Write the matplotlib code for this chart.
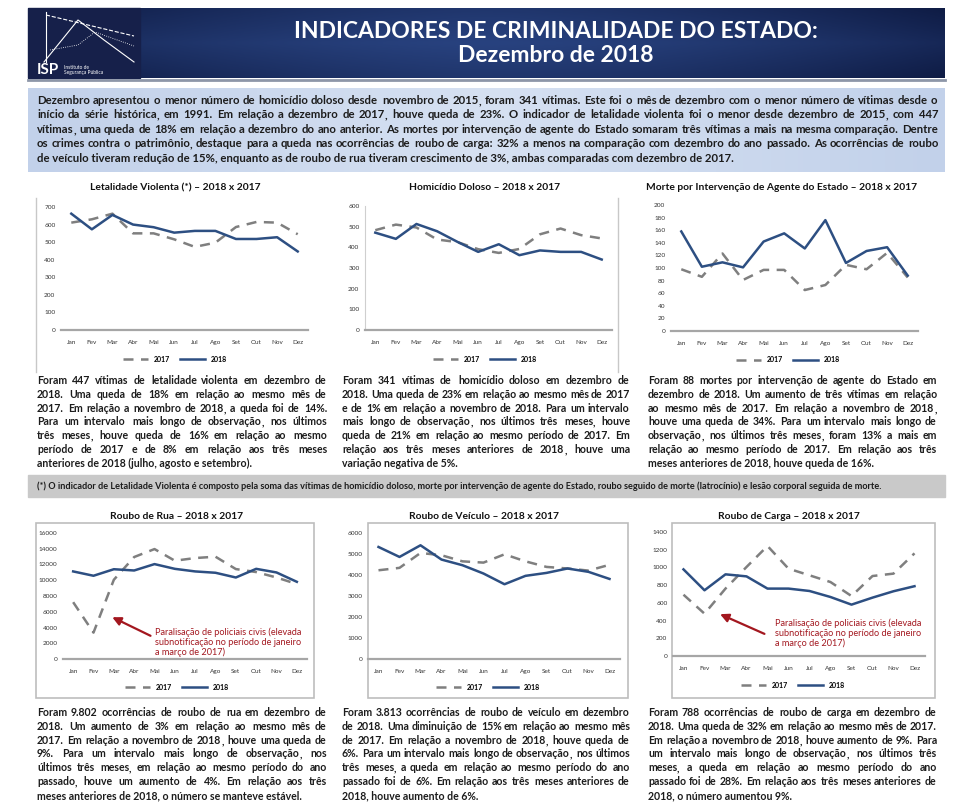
import numpy as np
import matplotlib
matplotlib.use("Agg")
import matplotlib.pyplot as plt
from matplotlib.colors import LinearSegmentedColormap

plt.rcParams["font.family"] = ["Lato", "DejaVu Sans"]

W, H = 960, 805

meses = ["Jan", "Fev", "Mar", "Abr", "Mai", "Jun", "Jul", "Ago", "Set", "Out", "Nov", "Dez"]

# ====== Dados ======
letal_2017 = [611, 630, 662, 550, 550, 516, 473, 497, 586, 615, 611, 545]
letal_2018 = [662, 573, 655, 600, 585, 554, 564, 564, 518, 518, 528, 447]

homic_2017 = [483, 510, 496, 438, 425, 391, 373, 392, 463, 491, 459, 443]
homic_2018 = [471, 441, 513, 478, 426, 378, 415, 362, 385, 378, 378, 341]

morte_2017 = [98, 86, 123, 81, 97, 97, 65, 73, 105, 98, 124, 85]
morte_2018 = [158, 102, 109, 101, 142, 155, 131, 176, 108, 127, 133, 88]

rua_2017 = [7215, 3350, 10060, 12950, 13960, 12480, 12820, 12990, 11420, 11040, 10350, 9520]
rua_2018 = [11120, 10570, 11400, 11240, 12050, 11450, 11120, 10950, 10350, 11450, 10990, 9802]

veic_2017 = [4225, 4340, 5050, 4940, 4650, 4590, 4985, 4650, 4385, 4310, 4210, 4486]
veic_2018 = [5335, 4860, 5415, 4735, 4465, 4070, 3560, 3960, 4100, 4310, 4150, 3813]

carga_2017 = [692, 478, 761, 1005, 1242, 986, 911, 835, 677, 903, 930, 1159]
carga_2018 = [978, 742, 922, 899, 761, 761, 734, 666, 580, 659, 731, 788]

titulos = ["Letalidade Violenta (*) – 2018 x 2017",
           "Homicídio Doloso – 2018 x 2017",
           "Morte por Intervenção de Agente do Estado – 2018 x 2017",
           "Roubo de Rua – 2018 x 2017",
           "Roubo de Veículo – 2018 x 2017",
           "Roubo de Carga – 2018 x 2017"]
series = [(letal_2017, letal_2018), (homic_2017, homic_2018), (morte_2017, morte_2018),
          (rua_2017, rua_2018), (veic_2017, veic_2018), (carga_2017, carga_2018)]
ymax = [700, 600, 200, 16000, 6000, 1400]
ystep = [100, 100, 20, 2000, 1000, 200]

resumo = [
    "Dezembro apresentou o menor número de homicídio doloso desde novembro de 2015, foram 341 vítimas. Este foi o mês de dezembro com o menor número de vítimas desde o",
    "início da série histórica, em 1991. Em relação a dezembro de 2017, houve queda de 23%. O indicador de letalidade violenta foi o menor desde dezembro de 2015, com 447",
    "vítimas, uma queda de 18% em relação a dezembro do ano anterior. As mortes por intervenção de agente do Estado somaram três vítimas a mais na mesma comparação. Dentre",
    "os crimes contra o patrimônio, destaque para a queda nas ocorrências de roubo de carga: 32% a menos na comparação com dezembro do ano passado. As ocorrências de roubo",
    "de veículo tiveram redução de 15%, enquanto as de roubo de rua tiveram crescimento de 3%, ambas comparadas com dezembro de 2017.",
]

textos = [
    ["Foram 447 vítimas de letalidade violenta em dezembro de",
     "2018. Uma queda de 18% em relação ao mesmo mês de",
     "2017. Em relação a novembro de 2018, a queda foi de 14%.",
     "Para um intervalo mais longo de observação, nos últimos",
     "três meses, houve queda de 16% em relação ao mesmo",
     "período de 2017 e de 8% em relação aos três meses",
     "anteriores de 2018 (julho, agosto e setembro)."],
    ["Foram 341 vítimas de homicídio doloso em dezembro de",
     "2018. Uma queda de 23% em relação ao mesmo mês de 2017",
     "e de 1% em relação a novembro de 2018. Para um intervalo",
     "mais longo de observação, nos últimos três meses, houve",
     "queda de 21% em relação ao mesmo período de 2017. Em",
     "relação aos três meses anteriores de 2018, houve uma",
     "variação negativa de 5%."],
    ["Foram 88 mortes por intervenção de agente do Estado em",
     "dezembro de 2018. Um aumento de três vítimas em relação",
     "ao mesmo mês de 2017. Em relação a novembro de 2018,",
     "houve uma queda de 34%. Para um intervalo mais longo de",
     "observação, nos últimos três meses, foram 13% a mais em",
     "relação ao mesmo período de 2017. Em relação aos três",
     "meses anteriores de 2018, houve queda de 16%."],
    ["Foram 9.802 ocorrências de roubo de rua em dezembro de",
     "2018. Um aumento de 3% em relação ao mesmo mês de",
     "2017. Em relação a novembro de 2018, houve uma queda de",
     "9%. Para um intervalo mais longo de observação, nos",
     "últimos três meses, em relação ao mesmo período do ano",
     "passado, houve um aumento de 4%. Em relação aos três",
     "meses anteriores de 2018, o número se manteve estável."],
    ["Foram 3.813 ocorrências de roubo de veículo em dezembro",
     "de 2018. Uma diminuição de 15% em relação ao mesmo mês",
     "de 2017. Em relação a novembro de 2018, houve queda de",
     "6%. Para um intervalo mais longo de observação, nos últimos",
     "três meses, a queda em relação ao mesmo período do ano",
     "passado foi de 6%. Em relação aos três meses anteriores de",
     "2018, houve aumento de 6%."],
    ["Foram 788 ocorrências de roubo de carga em dezembro de",
     "2018. Uma queda de 32% em relação ao mesmo mês de 2017.",
     "Em relação a novembro de 2018, houve aumento de 9%. Para",
     "um intervalo mais longo de observação, nos últimos três",
     "meses, a queda em relação ao mesmo período do ano",
     "passado foi de 28%. Em relação aos três meses anteriores de",
     "2018, o número aumentou 9%."],
]

nota = ("(*) O indicador de Letalidade Violenta é composto pela soma das vítimas de homicídio doloso, "
        "morte por intervenção de agente do Estado, roubo seguido de morte (latrocínio) e lesão corporal seguida de morte.")
paralisacao = "Paralisação de policiais civis (elevada\nsubnotificação no período de janeiro\na março de 2017)"

# ====== Layout (pixels: esquerda, topo, direita, base) ======
eixos = [(61, 207, 308, 330), (365, 206, 612, 330), (671, 205, 918, 331),
         (63, 533, 307, 659), (368, 533, 620, 659), (673, 532, 925, 656)]
pos_titulo = [(175, 188), (485, 188), (782, 188), (177, 516), (484, 516), (789, 516)]
pos_legenda = [(175, 359), (485, 359), (788, 360), (177, 687), (488, 687), (793, 685)]
pos_texto = [(37, 327, 381), (342, 630, 381), (648, 937, 381),
             (37, 327, 713), (342, 630, 713), (648, 937, 713)]

COR_2018 = "#2d4f82"
COR_2017 = "#7f7f7f"
COR_TXT = "#1c1c1c"

fig = plt.figure(figsize=(W / 100, H / 100), dpi=100)
bg = fig.add_axes([0, 0, 1, 1])
bg.set_xlim(0, W)
bg.set_ylim(H, 0)
bg.axis("off")
renderer = fig.canvas.get_renderer()


def largura(txt, size, weight):
    t = bg.text(0, 0, txt, fontsize=size, weight=weight)
    w = t.get_window_extent(renderer).width
    t.remove()
    return w


def ajusta(linhas, width, size, weight="bold"):
    # reduz a fonte até a linha mais longa caber na largura
    while size > 4 and max(largura(l, size, weight) for l in linhas) > width:
        size -= 0.1
    return round(size, 1)


def paragrafo(linhas, x0, x1, y0, dy, size, weight="bold", color=COR_TXT):
    # texto justificado, palavra por palavra; a vírgula final vai num texto
    # separado para não deslocar a palavra na vertical
    base = 0.36 * size
    kw = dict(fontsize=size, weight=weight, color=color, va="baseline", ha="left")
    for i, linha in enumerate(linhas):
        y = round(y0 + i * dy + base)
        palavras = linha.split()
        if i == len(linhas) - 1 or len(palavras) < 2:
            bg.text(x0, y, linha, **kw)
            continue
        grupos = []
        for p in palavras:
            if p.endswith(",") and len(p) > 1:
                partes = [bg.text(0, y, p[:-1], **kw), bg.text(0, y, ",", **kw)]
            else:
                partes = [bg.text(0, y, p, **kw)]
            grupos.append([(a, a.get_window_extent(renderer).width) for a in partes])
        larg = [sum(w for _, w in g) for g in grupos]
        gap = (x1 - x0 - sum(larg)) / (len(palavras) - 1)
        x = x0
        for g, wg in zip(grupos, larg):
            xp = x
            for a, w in g:
                a.set_x(round(xp))
                xp += w
            x += wg + gap


# ====== Cabeçalho ======
gx = np.linspace(-1, 1, 300)
gy = np.linspace(-1, 1, 40)
grad = 1 - 0.55 * np.abs(gx)[None, :] ** 1.5 - 0.25 * np.abs(gy)[:, None]
cm_head = LinearSegmentedColormap.from_list("head", ["#0f1c45", "#28427f"])
bg.imshow(grad, extent=(28, 945, 78, 8), aspect="auto", cmap=cm_head, vmin=0.2, vmax=1, zorder=1)
bg.add_patch(plt.Rectangle((28, 8), 112, 70, color="#16204a", zorder=2))
bg.plot([28, 945], [80, 80], color="#8d96a8", lw=2, zorder=2)

# logotipo simplificado
bg.plot([44, 78, 104, 134], [62, 20, 40, 62], color="white", lw=0.8, zorder=3)
bg.plot([46, 134], [15, 36], color="white", lw=0.8, ls="--", zorder=3)
bg.plot([50, 78, 95, 134], [50, 45, 32, 46], color="white", lw=0.6, ls=":", zorder=3)
bg.plot([46, 46], [12, 62], color="white", lw=0.8, zorder=3)
bg.text(37, 70, "ISP", color="white", fontsize=11, weight="bold", va="center", zorder=3)
bg.text(64, 70, "Instituto de\nSegurança Pública", color="white", fontsize=3.5, va="center",
        linespacing=1.0, zorder=3)

tam_tit = ajusta(["INDICADORES DE CRIMINALIDADE DO ESTADO:"], 525, 20, "bold")
bg.text(556, 31, "INDICADORES DE CRIMINALIDADE DO ESTADO:", color="white", fontsize=tam_tit,
        weight="bold", ha="center", va="center", zorder=3)
bg.text(556, 56, "Dezembro de 2018", color="white", fontsize=tam_tit, weight="bold",
        ha="center", va="center", zorder=3)

# ====== Resumo ======
gb = np.linspace(0, 1, 200)[None, :]
cm_box = LinearSegmentedColormap.from_list("box", ["#c2d1ea", "#d6e1f2", "#c2d1ea"])
bg.imshow(gb, extent=(28, 945, 172, 88), aspect="auto", cmap=cm_box, zorder=1)
tam_res = ajusta(resumo, 901, 9)
paragrafo(resumo, 37, 938, 101, 14.5, tam_res)

# ====== Nota ======
bg.add_patch(plt.Rectangle((28, 475), 917, 22, color="#c9c9c9", zorder=1))
tam_nota = ajusta([nota], 855, 7)
bg.text(37, 486, nota, fontsize=tam_nota, weight="bold", color=COR_TXT, va="center", ha="left", zorder=2)

# molduras dos gráficos
bg.plot([36, 36], [198, 372], color="#c8c8c8", lw=1)
bg.plot([618, 618], [198, 372], color="#c8c8c8", lw=1)
for (l, r) in [(36, 314), (368, 628), (672, 935)]:
    bg.add_patch(plt.Rectangle((l, 523), r - l, 175, fill=False, ec="#bdbdbd", lw=1.2))
bg.set_xlim(0, W)
bg.set_ylim(H, 0)

# tamanho comum para os parágrafos dos gráficos
tam_par = min(ajusta(textos[k], pos_texto[k][1] - pos_texto[k][0], 9) for k in range(6))

# ====== Gráficos ======
x = np.arange(len(meses))
for k in range(6):
    l, t, r, b = eixos[k]
    ax = fig.add_axes([l / W, 1 - b / H, (r - l) / W, (b - t) / H])
    ax.set_facecolor("none")
    s17, s18 = series[k]
    ax.plot(x, s17, color=COR_2017, lw=1.8, dashes=(4, 3), label="2017")
    ax.plot(x, s18, color=COR_2018, lw=1.8, label="2018")
    ax.set_xlim(-0.5, len(meses) - 0.5)
    ax.set_ylim(0, ymax[k])
    ax.set_yticks(np.arange(0, ymax[k] + 1, ystep[k]))
    ax.set_xticks(x)
    ax.set_xticklabels(meses)
    ax.tick_params(length=0, labelsize=4.6, colors="#333333")
    ax.tick_params(axis="x", pad=7)
    ax.tick_params(axis="y", pad=4)
    for sp in ["top", "right", "left"]:
        ax.spines[sp].set_visible(False)
    ax.spines["bottom"].set_color("#a6a6a6")
    ax.spines["bottom"].set_linewidth(1.6)
    if k == 1:
        ax.spines["left"].set_visible(True)
        ax.spines["left"].set_color("#cfcfcf")

    cx, cy = pos_legenda[k]
    ax.legend(loc="center", bbox_to_anchor=(cx / W, 1 - cy / H), bbox_transform=fig.transFigure,
              ncol=2, frameon=False, handlelength=3.6, columnspacing=1.5,
              prop={"weight": "bold", "size": 5})

    tx, ty = pos_titulo[k]
    bg.text(tx, ty, titulos[k], fontsize=7.4, weight="bold", color="#111111", ha="center", va="center")

    x0, x1, y0 = pos_texto[k]
    paragrafo(textos[k], x0, x1, y0, 13.9, tam_par)

# ====== Anotações da paralisação ======
notas_par = [(3, 1.8, 5460, (153, 637), (155, 627)), (5, 1.62, 485, (767, 635), (775, 618))]
for k, xa, ya, (sx, sy), (tx, ty) in notas_par:
    ax = fig.axes[k + 1]
    ax.annotate("", xy=(xa, ya), xycoords="data", xytext=(sx, H - sy), textcoords="figure pixels",
                arrowprops=dict(arrowstyle="-|>,head_length=0.5,head_width=0.25", color="#a3171f", lw=1.6))
    bg.text(tx, ty, paralisacao, fontsize=6.6, color="#a3171f", ha="left", va="top", linespacing=1.15)

fig.savefig("out.png", dpi=100)
